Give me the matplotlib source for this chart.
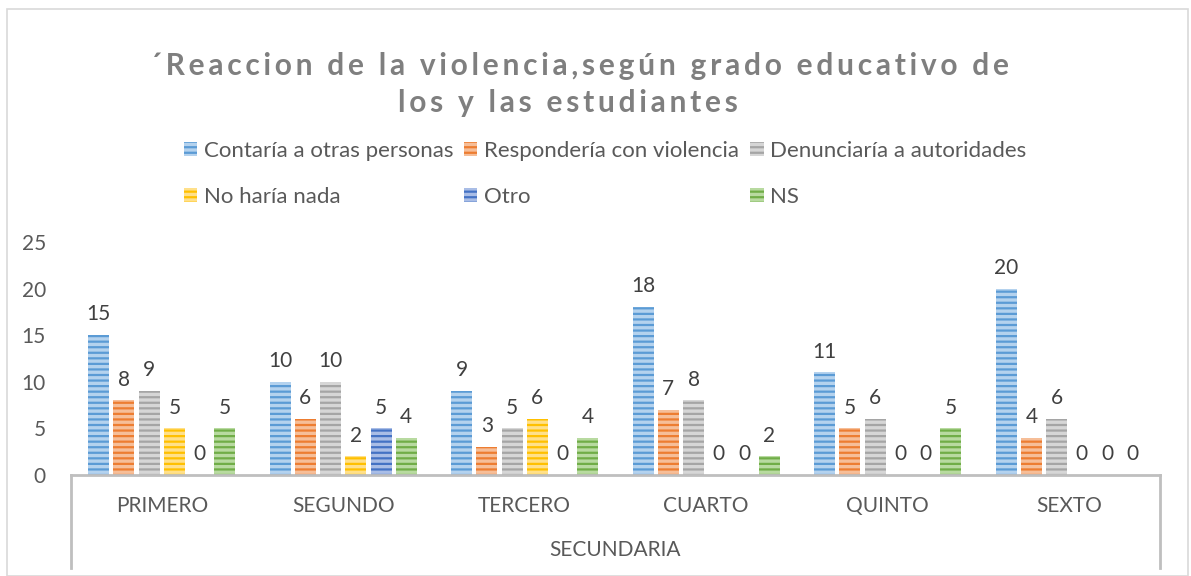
import matplotlib.pyplot as plt
import matplotlib.patches as mpatches
import numpy as np

plt.rcParams['font.family'] = ['Lato', 'DejaVu Sans']
plt.rcParams['hatch.linewidth'] = 1.6

# datos
grados = ['PRIMERO', 'SEGUNDO', 'TERCERO', 'CUARTO', 'QUINTO', 'SEXTO']
grupo = 'SECUNDARIA'
series = ['Contaría a otras personas', 'Respondería con violencia',
          'Denunciaría a autoridades', 'No haría nada', 'Otro', 'NS']
contaria = [15, 10, 9, 18, 11, 20]
responderia = [8, 6, 3, 7, 5, 4]
denunciaria = [9, 10, 5, 8, 6, 6]
nada = [5, 2, 6, 0, 0, 0]
otro = [0, 5, 0, 0, 0, 0]
ns = [5, 4, 4, 2, 5, 0]
valores = [contaria, responderia, denunciaria, nada, otro, ns]

colores = ['#5B9BD5', '#ED7D31', '#A5A5A5', '#FFC000', '#4472C4', '#70AD47']
claros = ['#B4D2EE', '#F6BE98', '#D6D6D6', '#FFE08A', '#A9BDE6', '#B8DAA0']

titulo1 = '´Reaccion de la violencia,según grado educativo de'
titulo2 = 'los y las estudiantes'

fig = plt.figure(figsize=(11.91, 5.76), dpi=100)
W, H = 1191, 576
# borde exterior del grafico
fig.patches.append(mpatches.Rectangle((7 / W, 0), 1181 / W, 567 / H, transform=fig.transFigure,
                                      fill=False, edgecolor='#D9D9D9', lw=1.2))

ax = fig.add_axes([71 / W, 101 / H, (1160 - 71) / W, 233 / H])
x = np.arange(len(grados))
paso = 0.139
ancho = 0.116
barras = []
for i, (nombre, vals) in enumerate(zip(series, valores)):
    pos = x + (i - 2.5) * paso
    b = ax.bar(pos, vals, ancho, facecolor=claros[i], edgecolor=colores[i], hatch='---',
               linewidth=0, label=nombre)
    barras.append(b)
    for xp, v in zip(pos, vals):
        ax.annotate(str(v), (xp, v), xytext=(0, 15), textcoords='offset points',
                    ha='center', va='center', fontsize=15, color='#404040')

ax.set_xlim(-0.5, 5.5)
ax.set_ylim(0, 25)
ax.set_yticks(range(0, 26, 5))
ax.tick_params(axis='y', length=0, labelsize=15, labelcolor='#595959', pad=18)
ax.set_xticks([])
for s in ['top', 'right', 'left']:
    ax.spines[s].set_visible(False)
ax.spines['bottom'].set_color('#BFBFBF')
ax.spines['bottom'].set_linewidth(2)

# etiquetas de categorias (dos niveles)
for xi, g in zip(x, grados):
    ax.text(xi, -3.3, g, ha='center', va='center', fontsize=15, color='#595959', clip_on=False)
ax.text(2.5, -8.1, grupo, ha='center', va='center', fontsize=15, color='#595959', clip_on=False)
ax.plot([-0.5, -0.5], [0, -10], color='#BFBFBF', lw=2, clip_on=False)
ax.plot([5.5, 5.5], [0, -10], color='#BFBFBF', lw=2, clip_on=False)

# titulo con espaciado entre letras
esp = '\u2009'
fig.text(580 / W, 1 - 66 / H, esp.join(titulo1), ha='center', va='center', fontsize=21.5,
         fontweight='bold', color='#7F7F7F')
fig.text(568 / W, 1 - 103 / H, esp.join(titulo2), ha='center', va='center', fontsize=21.5,
         fontweight='bold', color='#7F7F7F')

# leyenda por filas
orden = [0, 3, 1, 4, 2, 5]
fig.legend([barras[k] for k in orden], [series[k] for k in orden],
           loc='center', bbox_to_anchor=(605 / W, 1 - 174 / H), ncol=3, frameon=False,
           fontsize=16, handlelength=0.6, handleheight=0.6, handletextpad=0.3,
           columnspacing=0.5, labelspacing=1.15, labelcolor='#595959')

plt.savefig('out.png', dpi=100)
